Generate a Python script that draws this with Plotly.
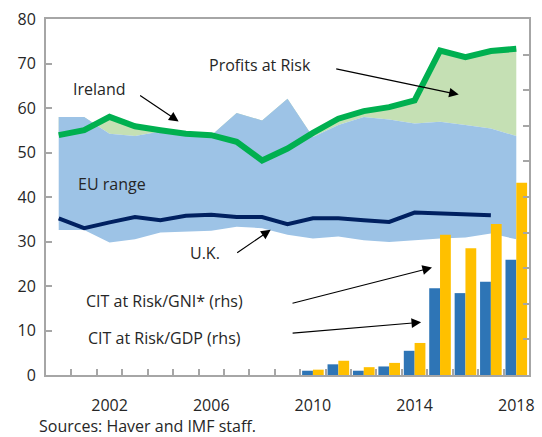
import plotly.graph_objects as go

# Data
years = list(range(2000, 2019))
ireland = [53.9, 55.0, 58.0, 55.9, 55.0, 54.2, 53.9, 52.4, 48.2, 50.9,
           54.4, 57.6, 59.3, 60.2, 61.7, 72.9, 71.4, 72.8, 73.3]
eu_max = [58.0, 58.0, 54.2, 53.7, 54.7, 54.0, 53.8, 58.9, 57.2, 62.1,
          53.5, 56.2, 58.0, 57.4, 56.5, 56.9, 56.2, 55.4, 53.7]
eu_min = [32.6, 32.6, 29.8, 30.5, 32.0, 32.2, 32.4, 33.3, 33.0, 31.5,
          30.7, 31.1, 30.3, 29.9, 30.3, 30.7, 30.9, 31.8, 30.5]
uk_years = list(range(2000, 2018))
uk = [35.2, 33.0, 34.3, 35.5, 34.8, 35.8, 36.0, 35.5, 35.5, 33.9,
      35.2, 35.2, 34.8, 34.4, 36.5, 36.3, 36.1, 35.9]

bar_years = list(range(2010, 2019))
cit_gdp = [0.06, 0.15, 0.06, 0.12, 0.34, 1.22, 1.15, 1.31, 1.62]
cit_gni = [0.075, 0.20, 0.11, 0.17, 0.45, 1.97, 1.78, 2.12, 2.70]

year_ticks = [2002, 2006, 2010, 2014, 2018]

FONT = "Open Sans"
FS = 16
GREY = "#a6a6a6"
TXT = "#262626"

W, H = 542, 437
ML, MR, MT, MB = 46, 8, 17, 62

fig = go.Figure()

# green "profits at risk" fill between EU max and Ireland
fig.add_trace(go.Scatter(x=years, y=eu_max, mode="lines", line=dict(width=0),
                         showlegend=False, hoverinfo="skip"))
fig.add_trace(go.Scatter(x=years, y=ireland, mode="lines", line=dict(width=0),
                         fill="tonexty", fillcolor="#c5e0b4", showlegend=False))

# EU range band
fig.add_trace(go.Scatter(x=years, y=eu_min, mode="lines", line=dict(width=0),
                         showlegend=False, hoverinfo="skip"))
fig.add_trace(go.Scatter(x=years, y=eu_max, mode="lines", line=dict(width=0),
                         fill="tonexty", fillcolor="#9dc3e6", showlegend=False))

fig.add_trace(go.Scatter(x=uk_years, y=uk, mode="lines",
                         line=dict(color="#002060", width=4), showlegend=False))
fig.add_trace(go.Scatter(x=years, y=ireland, mode="lines",
                         line=dict(color="#00b050", width=6), showlegend=False))

# bars on rhs
fig.add_trace(go.Bar(x=bar_years, y=cit_gdp, yaxis="y2", marker_color="#2e75b6",
                     marker_line_width=0, showlegend=False))
fig.add_trace(go.Bar(x=bar_years, y=cit_gni, yaxis="y2", marker_color="#ffc000",
                     marker_line_width=0, showlegend=False))

fig.update_layout(
    width=W, height=H,
    margin=dict(l=ML, r=MR, t=MT, b=MB),
    paper_bgcolor="white", plot_bgcolor="white",
    font=dict(family=FONT, size=FS, color=TXT),
    barmode="group", bargap=0.15, bargroupgap=0,
    xaxis=dict(range=[1999.5, 2018.5], tickmode="array", tickvals=year_ticks,
               ticks="", showgrid=False, zeroline=False,
               showline=True, linecolor=GREY, linewidth=2, mirror=True,
               ticklabelstandoff=15,
               minor=dict(tickmode="array",
                          tickvals=[y + 0.5 for y in years[:-1]],
                          ticks="inside", ticklen=6, tickcolor=GREY,
                          tickwidth=1.5, showgrid=False)),
    yaxis=dict(range=[0, 80], dtick=10, ticks="inside", ticklen=6,
               tickcolor=GREY, tickwidth=1.5, showgrid=False, zeroline=False,
               showline=True, linecolor=GREY, linewidth=2,
               ticklabelstandoff=5),
    yaxis2=dict(range=[0, 5], dtick=0.5, overlaying="y", side="right",
                ticks="inside", ticklen=6, tickcolor=GREY, tickwidth=1.5,
                showticklabels=False, showgrid=False, zeroline=False,
                showline=True, linecolor=GREY, linewidth=2),
)


def px(x):
    return (x - ML) / (W - ML - MR)


def py(y):
    return 1 - (y - MT) / (H - MT - MB)


def lab_px(text, x, y, anchor="center"):
    fig.add_annotation(text=text, x=px(x), y=py(y), xref="paper", yref="paper",
                       showarrow=False, xanchor=anchor, yanchor="middle",
                       font=dict(family=FONT, size=FS, color=TXT))


def arrow(x0, y0, x1, y1):
    fig.add_annotation(x=px(x1), y=py(y1), ax=x0 - x1, ay=y0 - y1,
                       xref="paper", yref="paper", axref="pixel", ayref="pixel",
                       showarrow=True, arrowhead=2, arrowsize=1.6,
                       arrowwidth=1.2, arrowcolor="black", text="")


lab_px("Profits at Risk", 262, 63)
lab_px("Ireland", 100, 87)
lab_px("EU range", 113, 183)
lab_px("U.K.", 207, 252)
lab_px("CIT at Risk/GNI* (rhs)", 166, 301)
lab_px("CIT at Risk/GDP (rhs)", 166, 338)

arrow(339, 67, 463, 93)
arrow(140, 93, 180, 120)
arrow(238, 253, 273, 229)
arrow(295, 303, 436, 267)
arrow(295, 333, 425, 322)

lab_px("Sources: Haver and IMF staff.", 37, 426, anchor="left")

fig.write_html("out.html", config={"displayModeBar": False},
               post_script="document.body.style.margin='0';")
